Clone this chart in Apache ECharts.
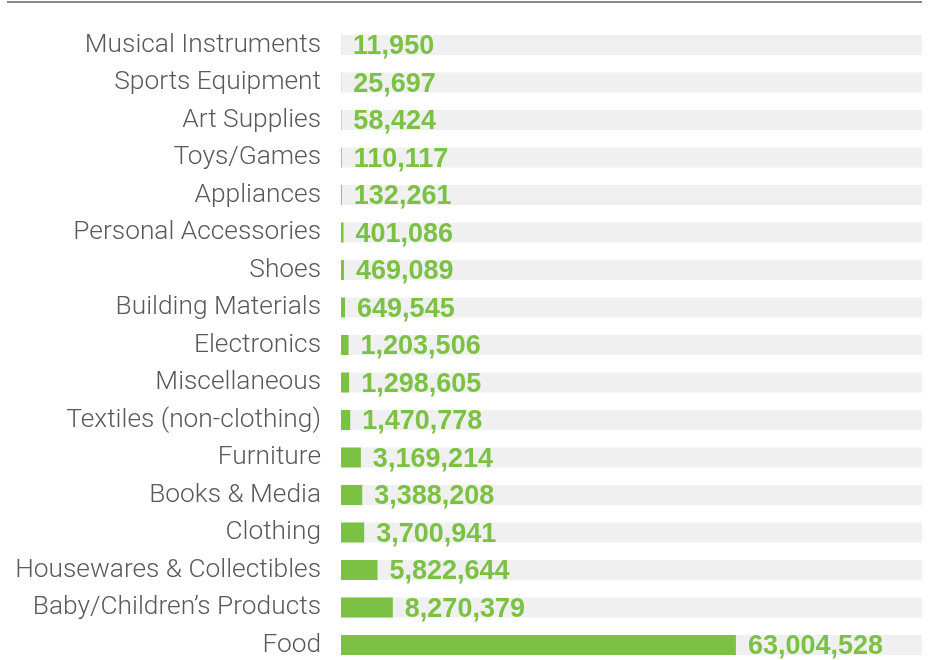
<!DOCTYPE html>
<html lang="en">

<head>
	<meta charset="UTF-8">
	<title>Categories</title>
	<script src="https://cdn.jsdelivr.net/npm/echarts@6/dist/echarts.min.js"></script>
	<style>
		html, body { margin: 0; padding: 0; background: #fff; }
	</style>
</head>

<body>
	<div id="main" style="width: 929px;height: 660px;"></div>

	<script>
		// categories, top to bottom
		var categories = [
			'Musical Instruments',
			'Sports Equipment',
			'Art Supplies',
			'Toys/Games',
			'Appliances',
			'Personal Accessories',
			'Shoes',
			'Building Materials',
			'Electronics',
			'Miscellaneous',
			'Textiles (non-clothing)',
			'Furniture',
			'Books & Media',
			'Clothing',
			'Housewares & Collectibles',
			'Baby/Children\u2019s Products',
			'Food'
		];
		var values = [
			11950, 25697, 58424, 110117, 132261, 401086, 469089, 649545,
			1203506, 1298605, 1470778, 3169214, 3388208, 3700941,
			5822644, 8270379, 63004528
		];

		var chartDom = document.getElementById('main');
		var myChart = echarts.init(chartDom);
		var green = '#7bc143';

		var option = {
			animation: false,
			grid: {
				left: 341,
				right: 7,
				top: 26.25,
				height: 637.5,
				outerBoundsMode: 'none'
			},
			xAxis: {
				type: 'value',
				min: 0,
				max: 92700000,
				show: false
			},
			yAxis: {
				type: 'category',
				data: categories,
				inverse: true,
				axisLine: { show: false },
				axisTick: { show: false },
				axisLabel: {
					margin: 20,
					padding: [4, 0, 0, 0],
					fontFamily: 'Roboto',
					fontWeight: 300,
					fontSize: 26.3,
					color: '#595959'
				}
			},
			graphic: [{
				type: 'rect',
				shape: { x: 7, y: 1, width: 915, height: 2 },
				style: { fill: '#8a8a8a' }
			}],
			series: [{
				type: 'bar',
				data: values,
				barWidth: 20,
				itemStyle: { color: green },
				showBackground: true,
				backgroundStyle: { color: '#f0f0f0' },
				label: {
					show: true,
					position: 'right',
					distance: 12,
					offset: [0, 2],
					fontFamily: 'Liberation Sans',
					fontWeight: 'bold',
					fontSize: 27,
					color: green,
					formatter: function (p) {
						return p.value.toLocaleString('en-US');
					}
				}
			}]
		};

		myChart.setOption(option);
	</script>
</body>

</html>
